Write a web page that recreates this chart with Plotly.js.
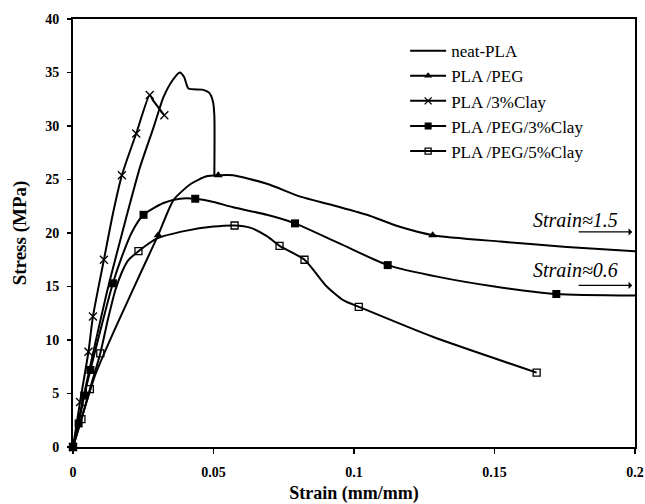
<!DOCTYPE html>
<html>
<head>
<meta charset="utf-8">
<script src="https://cdn.plot.ly/plotly-3.0.1.min.js"></script>
<style>html,body{margin:0;padding:0;background:#fff;}#chart{width:645px;height:504px;}</style>
</head>
<body>
<div id="chart"></div>
<script>
// ---- Data ----
var seriesNames = ['neat-PLA', 'PLA /PEG', 'PLA /3%Clay', 'PLA /PEG/3%Clay', 'PLA /PEG/5%Clay'];

// neat-PLA (curve only, no markers)
var neatX = [0, 0.004, 0.008, 0.012, 0.015, 0.0195, 0.0239, 0.0287, 0.0322, 0.0355, 0.0380, 0.0395, 0.0411, 0.0460, 0.0485, 0.0498, 0.0503, 0.0503];
var neatY = [0, 5.0, 9.8, 14.4, 17.5, 22.0, 26.2, 29.9, 32.7, 34.3, 35.0, 34.6, 33.5, 33.4, 33.1, 32.3, 31.0, 25.3];

// PLA/PEG
var pegX = [0, 0.004, 0.008, 0.013, 0.018, 0.0243, 0.0303, 0.0358, 0.042, 0.0475, 0.0517, 0.057, 0.069, 0.0809, 0.0925, 0.1046, 0.116, 0.128, 0.152, 0.1757, 0.2];
var pegY = [0, 3.5, 6.8, 9.9, 12.8, 16.4, 19.8, 23.1, 24.6, 25.3, 25.4, 25.4, 24.6, 23.4, 22.6, 21.7, 20.6, 19.8, 19.2, 18.7, 18.3];
var pegMX = [0, 0.0303, 0.0517, 0.128];
var pegMY = [0, 19.8, 25.4, 19.8];

// PLA/3%Clay
var clay3X = [0, 0.0025, 0.0055, 0.0071, 0.011, 0.0142, 0.0174, 0.0225, 0.0273, 0.0285, 0.0325];
var clay3Y = [0, 4.2, 8.9, 12.2, 17.5, 21.8, 25.4, 29.3, 32.9, 32.4, 31.0];
var clay3MX = [0, 0.0025, 0.0055, 0.0071, 0.011, 0.0174, 0.0225, 0.0273, 0.0325];
var clay3MY = [0, 4.2, 8.9, 12.2, 17.5, 25.4, 29.3, 32.9, 31.0];

// PLA/PEG/3%Clay
var peg3X = [0, 0.002, 0.004, 0.0062, 0.0142, 0.0174, 0.021, 0.0251, 0.0322, 0.0380, 0.0435, 0.050, 0.057, 0.069, 0.079, 0.095, 0.112, 0.130, 0.150, 0.172, 0.2];
var peg3Y = [0, 2.2, 4.8, 7.2, 15.3, 17.8, 20.1, 21.7, 22.8, 23.2, 23.2, 22.9, 22.4, 21.7, 20.9, 19.0, 17.0, 15.9, 15.0, 14.3, 14.15];
var peg3MX = [0, 0.002, 0.004, 0.0062, 0.0142, 0.0251, 0.0435, 0.079, 0.112, 0.172];
var peg3MY = [0, 2.2, 4.8, 7.2, 15.3, 21.7, 23.2, 20.9, 17.0, 14.3];

// PLA/PEG/5%Clay
var peg5X = [0, 0.003, 0.006, 0.0097, 0.0125, 0.015, 0.0175, 0.0195, 0.0233, 0.030, 0.040, 0.050, 0.0575, 0.063, 0.069, 0.0735, 0.0824, 0.0903, 0.0963, 0.1017, 0.128, 0.165];
var peg5Y = [0, 2.6, 5.4, 8.75, 12.0, 14.6, 16.4, 17.4, 18.3, 19.5, 20.2, 20.6, 20.7, 20.5, 19.7, 18.8, 17.5, 15.0, 13.7, 13.1, 10.3, 6.95];
var peg5MX = [0, 0.003, 0.006, 0.0097, 0.0233, 0.0575, 0.0735, 0.0824, 0.1017, 0.165];
var peg5MY = [0, 2.6, 5.4, 8.75, 18.3, 20.7, 18.8, 17.5, 13.1, 6.95];

var xTickVals = [0, 0.05, 0.1, 0.15, 0.2];
var xTickText = ['0', '0.05', '0.1', '0.15', '0.2'];
var yTickVals = [0, 5, 10, 15, 20, 25, 30, 35, 40];
var annoTexts = ['Strain\u22481.5', 'Strain\u22480.6'];

// ---- Styles ----
var serif = 'Liberation Serif, Times New Roman, serif';
var lineStyle = {color: '#000', width: 2, shape: 'spline', smoothing: 0.6};
var symbols = [null, 'triangle-up', 'x-thin-open', 'square', 'square-open'];
var msizes = [0, 8, 8, 8, 7];

var curves = [[neatX, neatY], [pegX, pegY], [clay3X, clay3Y], [peg3X, peg3Y], [peg5X, peg5Y]];
var markersD = [null, [pegMX, pegMY], [clay3MX, clay3MY], [peg3MX, peg3MY], [peg5MX, peg5MY]];

var traces = [];
for (var i = 0; i < seriesNames.length; i++) {
  traces.push({
    x: curves[i][0], y: curves[i][1], type: 'scatter', mode: 'lines',
    line: lineStyle, showlegend: false, legendgroup: 'g' + i, cliponaxis: false, hoverinfo: 'skip'
  });
  if (markersD[i]) {
    traces.push({
      x: markersD[i][0], y: markersD[i][1], type: 'scatter', mode: 'markers',
      marker: {symbol: symbols[i], size: msizes[i], color: '#000',
               line: {color: '#000', width: (symbols[i].indexOf('open') >= 0 ? 1.3 : 0)}},
      showlegend: false, legendgroup: 'g' + i, cliponaxis: false
    });
  }
  // legend entry
  var leg = {
    x: [null], y: [null], type: 'scatter', name: seriesNames[i], legendgroup: 'g' + i,
    mode: markersD[i] ? 'lines+markers' : 'lines',
    line: {color: '#000', width: 2}, showlegend: true
  };
  if (markersD[i]) {
    leg.marker = {symbol: symbols[i], size: msizes[i] - 1, color: '#000',
                  line: {color: '#000', width: (symbols[i].indexOf('open') >= 0 ? 1.3 : 0)}};
  }
  traces.push(leg);
}

var axisCommon = {
  showgrid: false, zeroline: false, showline: true, linecolor: '#000', linewidth: 2,
  mirror: true, ticks: 'outside', tickcolor: '#000', tickwidth: 1.5,
  tickfont: {family: serif, size: 14, color: '#000', weight: 'bold'},
  automargin: false, fixedrange: true
};

var layout = {
  width: 645, height: 504,
  margin: {l: 73, r: 10, t: 19, b: 57},
  paper_bgcolor: '#fff', plot_bgcolor: '#fff',
  xaxis: Object.assign({}, axisCommon, {
    range: [0, 0.2], tickvals: xTickVals, ticktext: xTickText, ticklen: 5,
    ticklabelstandoff: 6,
    title: {text: 'Strain (mm/mm)', font: {family: serif, size: 18, color: '#000', weight: 'bold'}, standoff: 10}
  }),
  yaxis: Object.assign({}, axisCommon, {
    range: [0, 40], tickvals: yTickVals, ticklen: 4, ticklabelstandoff: 5,
    title: {text: 'Stress (MPa)', font: {family: serif, size: 19, color: '#000', weight: 'bold'}, standoff: 14}
  }),
  showlegend: true,
  legend: {
    x: 0.591, y: 0.967, xanchor: 'left', yanchor: 'top',
    bgcolor: 'rgba(0,0,0,0)', borderwidth: 0,
    font: {family: serif, size: 17, color: '#000'},
    traceorder: 'grouped', tracegroupgap: 0, itemwidth: 36
  },
  annotations: [
    {x: 0.1787, y: 21.2, xref: 'x', yref: 'y', text: annoTexts[0], showarrow: false,
     font: {family: serif, size: 20, color: '#000', style: 'italic'}},
    {x: 0.199, y: 20.1, xref: 'x', yref: 'y', ax: 0.1794, ay: 20.1, axref: 'x', ayref: 'y',
     text: '', showarrow: true, arrowhead: 1, arrowsize: 1, arrowwidth: 1.2, arrowcolor: '#000'},
    {x: 0.1787, y: 16.5, xref: 'x', yref: 'y', text: annoTexts[1], showarrow: false,
     font: {family: serif, size: 20, color: '#000', style: 'italic'}},
    {x: 0.199, y: 15.1, xref: 'x', yref: 'y', ax: 0.1794, ay: 15.1, axref: 'x', ayref: 'y',
     text: '', showarrow: true, arrowhead: 1, arrowsize: 1, arrowwidth: 1.2, arrowcolor: '#000'}
  ]
};

Plotly.newPlot('chart', traces, layout, {staticPlot: true, displayModeBar: false});
</script>
</body>
</html>
